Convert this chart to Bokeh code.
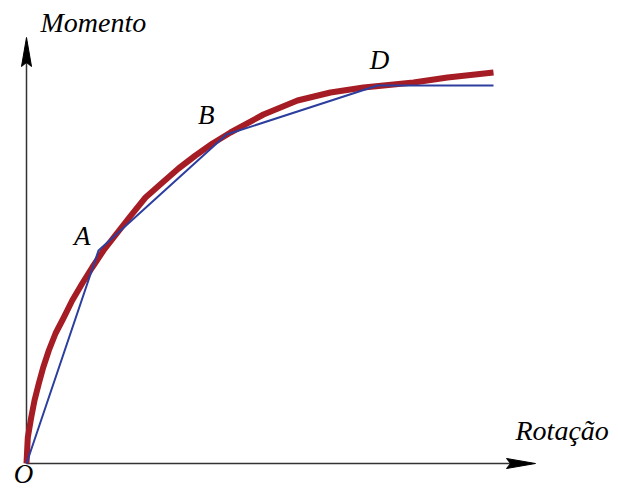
from bokeh.plotting import figure
from bokeh.models import Range1d
from bokeh.core.properties import value
from bokeh.embed import file_html
from bokeh.resources import INLINE

# Data (arbitrary units)
# Multilinear approximation (blue)
blue_rot = [0.0, 0.72, 2.00, 3.51, 4.67]
blue_mom = [0.0, 2.13, 3.29, 3.78, 3.78]
blue_labels = ["O", "A", "B", "D", ""]

# Real moment-rotation curve (red)
red_rot = [0.0, 0.013, 0.047, 0.08, 0.123, 0.167, 0.223, 0.29, 0.373, 0.457, 0.557,
           0.657, 0.77, 1.02, 1.19, 1.36, 1.52, 1.69, 1.86, 2.04, 2.37, 2.71, 3.04,
           3.37, 3.87, 4.21, 4.67]
red_mom = [0.0, 0.26, 0.46, 0.63, 0.80, 0.96, 1.13, 1.30, 1.46, 1.63, 1.80,
           1.96, 2.13, 2.45, 2.66, 2.81, 2.95, 3.08, 3.20, 3.31, 3.49, 3.63, 3.71,
           3.76, 3.81, 3.86, 3.91]

# Axis extents (arrow tips)
x_axis_end = 5.09
y_axis_end = 4.26
x_title = "Rotação"
y_title = "Momento"

FONT = value("Liberation Serif")

p = figure(width=618, height=491, output_backend="svg", toolbar_location=None,
           x_range=Range1d(-0.26, 5.92), y_range=Range1d(-0.28, 4.63),
           min_border=0)
p.axis.visible = False
p.grid.visible = False
p.outline_line_color = None
p.background_fill_color = "white"

ax_col = "#333333"
# axes
p.line([0, x_axis_end - 0.2], [0, 0], line_color=ax_col, line_width=1.5)
p.line([0, 0], [0, y_axis_end - 0.2], line_color=ax_col, line_width=1.5)
# arrow heads (100 px per unit)
hl, hw, notch = 0.29, 0.05, 0.25
p.patch([x_axis_end, x_axis_end - hl, x_axis_end - notch, x_axis_end - hl],
        [0, hw, 0, -hw], fill_color="black", line_color="black")
p.patch([0, hw, 0, -hw],
        [y_axis_end, y_axis_end - hl, y_axis_end - notch, y_axis_end - hl],
        fill_color="black", line_color="black")

# curves
p.line(red_rot, red_mom, line_color="#a51c24", line_width=6, line_join="round")
p.line(blue_rot, blue_mom, line_color="#2c3e9e", line_width=2)

# point labels
offs = {"O": (-3, 10, "center"), "A": (-8, -15, "right"), "B": (-12, -20, "right"),
        "D": (2, -26, "center")}
for xr, ym, lab in zip(blue_rot, blue_mom, blue_labels):
    if not lab:
        continue
    dx, dy, al = offs[lab]
    p.text([xr], [ym], text=[lab], x_offset=dx, y_offset=dy, text_align=al,
           text_baseline="alphabetic", text_font=FONT, text_font_style="italic",
           text_font_size="27px", text_color="black")

# axis titles
p.text([0], [y_axis_end], text=[y_title], x_offset=14, y_offset=-15, text_align="left",
       text_baseline="alphabetic", text_font=FONT, text_font_style="italic",
       text_font_size="28px", text_color="black")
p.text([x_axis_end], [0], text=[x_title], x_offset=-20, y_offset=-33, text_align="left",
       text_baseline="alphabetic", text_font=FONT, text_font_style="italic",
       text_font_size="28px", text_color="black")

open("out.html", "w").write(file_html(p, INLINE))
